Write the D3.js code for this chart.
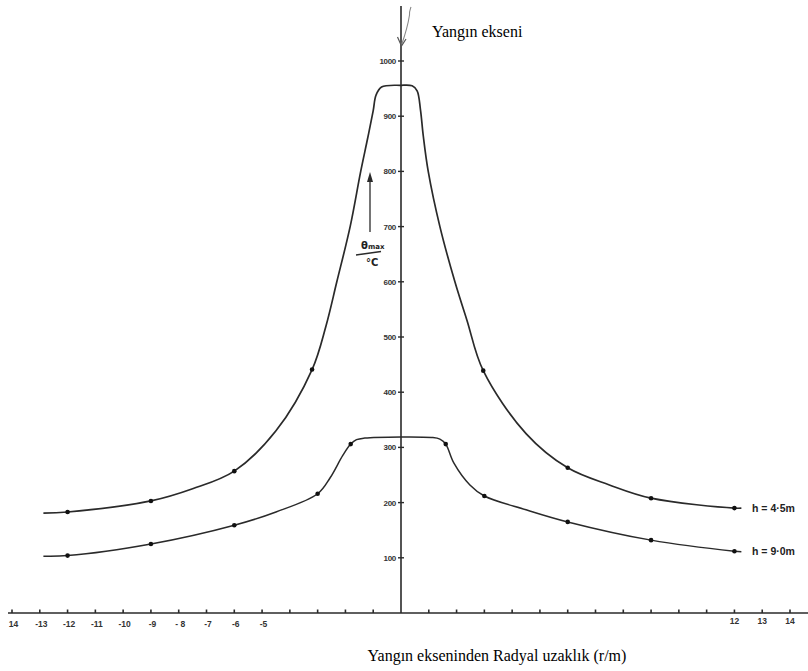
<!DOCTYPE html>
<html>
<head>
<meta charset="utf-8">
<script src="https://cdn.jsdelivr.net/npm/d3@7"></script>
<style>
  html, body { margin: 0; padding: 0; background: #fff; }
  svg { display: block; }
</style>
</head>
<body>
<svg id="chart" width="808" height="671"></svg>
<script>
// ---- Data ----
// h = 4.5 m curve: traced shape (r in m, temperature in °C)
const curve45R = [-12.87, -12, -9, -7.5, -6, -4.5, -3.2, -2.7, -2.31, -1.83, -1.45, -1.2, -1.0, -0.9, -0.7, 0, 0.4, 0.58, 0.7, 0.8, 0.98, 1.4, 1.94, 2.37, 2.96, 4.5, 6, 7.5, 9, 12, 12.25];
const curve45T = [181, 183, 203, 225, 257, 330, 441, 520, 600, 700, 800, 860, 910, 938, 953, 956, 955, 946, 912, 865, 800, 700, 600, 531, 439, 325, 263, 232, 208, 190, 190];
// h = 4.5 m measured points
const pts45R = [-12, -9, -6, -3.2, 2.96, 6, 9, 12];
const pts45T = [183, 203, 257, 441, 439, 263, 208, 190];

// h = 9.0 m curve
const curve90R = [-12.87, -12, -9, -6, -4.5, -3, -2.55, -2.1, -1.81, -1.6, -1.3, 0, 1.1, 1.4, 1.61, 1.9, 2.48, 3, 4.5, 6, 9, 12, 12.25];
const curve90T = [103, 104, 125, 159, 183, 216, 245, 285, 306, 314, 317, 319, 318, 315, 306, 272, 232, 212, 187, 165, 132, 112, 111];
const pts90R = [-12, -9, -6, -3, -1.81, 1.61, 3, 6, 9, 12];
const pts90T = [104, 125, 159, 216, 306, 306, 212, 165, 132, 112];

// Axis ticks
const xTicks = d3.range(-14, 15);
const xTickLabels = {"-14": "14", "-13": "-13", "-12": "-12", "-11": "-11", "-10": "-10", "-9": "-9", "-8": "- 8", "-7": "-7", "-6": "-6", "-5": "-5", "12": "12", "13": "13", "14": "14"};
const yTicks = [100, 200, 300, 400, 500, 600, 700, 800, 900, 1000];

const seriesLabels = ["h = 4·5m", "h = 9·0m"];
const axisTitle = "Yangın ekseni";
const xTitle = "Yangın ekseninden Radyal uzaklık (r/m)";

// ---- Drawing ----
const svg = d3.select("#chart");
const x = d3.scaleLinear().domain([-14, 14]).range([12, 790]);
const y = d3.scaleLinear().domain([0, 1000]).range([613, 61]);
const ink = "#2a2a2a";

// x axis line
svg.append("line").attr("x1", 8).attr("x2", 808).attr("y1", y(0)).attr("y2", y(0))
  .attr("stroke", ink).attr("stroke-width", 1.6);
// x ticks (small, upward)
svg.selectAll(".xt").data(xTicks.filter(d => d !== 0)).enter().append("line")
  .attr("x1", d => x(d)).attr("x2", d => x(d))
  .attr("y1", y(0)).attr("y2", y(0) - 3.5)
  .attr("stroke", ink).attr("stroke-width", 1.6);
// x tick labels
svg.selectAll(".xl").data(xTicks.filter(d => xTickLabels[d] !== undefined)).enter().append("text")
  .attr("x", d => x(d) + (d < 0 ? 1.5 : 0))
  .attr("y", d => d < 0 ? 627 : 624)
  .attr("text-anchor", "middle")
  .attr("font-family", "Liberation Sans, Arial, sans-serif")
  .attr("font-size", 8.5)
  .attr("font-weight", "bold")
  .attr("fill", "#333")
  .text(d => xTickLabels[d]);

// y axis line
svg.append("line").attr("x1", x(0)).attr("x2", x(0)).attr("y1", 6).attr("y2", y(0))
  .attr("stroke", ink).attr("stroke-width", 1.6);
// y ticks (small crosses)
svg.selectAll(".yt").data(yTicks).enter().append("line")
  .attr("x1", x(0) - 3).attr("x2", x(0) + 3)
  .attr("y1", d => y(d)).attr("y2", d => y(d))
  .attr("stroke", ink).attr("stroke-width", 1.4);
svg.selectAll(".yl").data(yTicks).enter().append("text")
  .attr("x", x(0) - 5).attr("y", d => y(d) + 3)
  .attr("text-anchor", "end")
  .attr("font-family", "Liberation Sans, Arial, sans-serif")
  .attr("font-size", 8)
  .attr("font-weight", "bold")
  .attr("fill", "#333")
  .attr("letter-spacing", -0.3)
  .text(d => d);

// curves
const line = d3.line().x(d => x(d[0])).y(d => y(d[1])).curve(d3.curveCatmullRom.alpha(0.5));
const c45 = curve45R.map((r, i) => [r, curve45T[i]]);
const c90 = curve90R.map((r, i) => [r, curve90T[i]]);
svg.append("path").attr("d", line(c45)).attr("fill", "none").attr("stroke", ink).attr("stroke-width", 1.7);
svg.append("path").attr("d", line(c90)).attr("fill", "none").attr("stroke", ink).attr("stroke-width", 1.5);

// points
const p45 = pts45R.map((r, i) => [r, pts45T[i]]);
const p90 = pts90R.map((r, i) => [r, pts90T[i]]);
svg.selectAll(".p45").data(p45).enter().append("circle")
  .attr("cx", d => x(d[0])).attr("cy", d => y(d[1])).attr("r", 2.3).attr("fill", "#111");
svg.selectAll(".p90").data(p90).enter().append("circle")
  .attr("cx", d => x(d[0])).attr("cy", d => y(d[1])).attr("r", 2.3).attr("fill", "#111");

// series labels
svg.append("text").attr("x", 752).attr("y", y(190) + 4)
  .attr("font-family", "Liberation Sans, Arial, sans-serif").attr("font-size", 10.5).attr("font-weight", "bold")
  .attr("fill", "#222").text(seriesLabels[0]);
svg.append("text").attr("x", 752).attr("y", y(112) + 4)
  .attr("font-family", "Liberation Sans, Arial, sans-serif").attr("font-size", 10.5).attr("font-weight", "bold")
  .attr("fill", "#222").text(seriesLabels[1]);

// y quantity label: θmax / °C with upward arrow
svg.append("line").attr("x1", 370).attr("x2", 370).attr("y1", 232).attr("y2", 180)
  .attr("stroke", ink).attr("stroke-width", 1.3);
svg.append("path").attr("d", "M367,182 L370,172 L373,182 Z").attr("fill", ink);
const th = svg.append("text").attr("x", 361).attr("y", 249)
  .attr("font-family", "DejaVu Sans, sans-serif").attr("font-size", 10).attr("font-weight", "bold").attr("fill", "#222");
th.append("tspan").text("θ");
th.append("tspan").attr("font-size", 7).text("max");
svg.append("line").attr("x1", 356).attr("y1", 255).attr("x2", 381).attr("y2", 251.5)
  .attr("stroke", ink).attr("stroke-width", 1.3);
svg.append("text").attr("x", 366).attr("y", 266)
  .attr("font-family", "DejaVu Sans, sans-serif").attr("font-size", 10).attr("font-weight", "bold").attr("fill", "#222")
  .text("°C");

// hand-drawn arrow pointing to the fire axis
svg.append("path").attr("d", "M411,7 C410,10 409,12 409.5,15 C408,25 405,35 401.5,45")
  .attr("fill", "none").attr("stroke", "#888").attr("stroke-width", 1.1);
svg.append("path").attr("d", "M397.5,37 L401.5,46 L406,39")
  .attr("fill", "none").attr("stroke", "#555").attr("stroke-width", 1.2);

// titles
svg.append("text").attr("x", 432).attr("y", 37)
  .attr("font-family", "Liberation Serif, Times New Roman, serif").attr("font-size", 16).attr("fill", "#000")
  .text(axisTitle);
svg.append("text").attr("x", 497).attr("y", 661).attr("text-anchor", "middle")
  .attr("font-family", "Liberation Serif, Times New Roman, serif").attr("font-size", 16).attr("fill", "#000")
  .text(xTitle);
</script>
</body>
</html>
